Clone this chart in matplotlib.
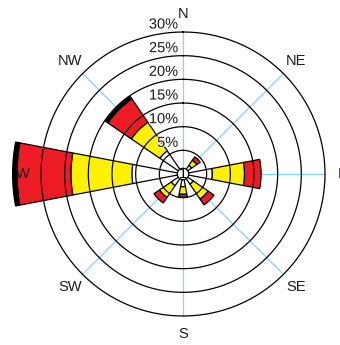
import numpy as np
import matplotlib
matplotlib.use("Agg")
import matplotlib.pyplot as plt
import matplotlib.patheffects as pe

plt.rcParams['font.family'] = ['Liberation Sans', 'DejaVu Sans']

# Data: frequency (%) per speed bin for each direction
directions = ['N', 'NE', 'E', 'SE', 'S', 'SW', 'W', 'NW']
angles_deg = [0, 45, 90, 135, 180, 225, 270, 315]
bin_white = [0.0, 2.2, 6.2, 2.6, 2.7, 3.0, 10.8, 5.9]
bin_yellow = [0.0, 1.3, 6.8, 3.8, 1.6, 3.0, 12.9, 7.3]
bin_red = [0.0, 0.9, 3.5, 1.5, 0.6, 1.4, 11.4, 6.0]
bin_black = [0.0, 0.0, 0.0, 0.0, 0.0, 0.0, 0.9, 0.6]
ring_values = [5, 10, 15, 20, 25, 30]
ring_labels = ['5%', '10%', '15%', '20%', '25%', '30%']
center_label = '1'

bins = [bin_white, bin_yellow, bin_red, bin_black]
bin_colors = ['white', '#FFF200', '#ED1C24', 'black']

W, H = 340, 345
fig = plt.figure(figsize=(W / 100, H / 100), dpi=100)
cx, cy = 183, 345 - 174
px_per = 142 / 30.0
rmax = 37
R = rmax * px_per
ax = fig.add_axes([(cx - R) / W, (cy - R) / H, 2 * R / W, 2 * R / H], projection='polar')
ax.set_theta_zero_location('N')
ax.set_theta_direction(-1)
ax.set_ylim(0, rmax)
ax.axis('off')

# radial axis lines
for a in angles_deg:
    t = np.deg2rad(a)
    ax.plot([t, t], [0, ring_values[-1]], color='#8FD0F2', lw=0.9, zorder=1)

width = np.deg2rad(21.6)
theta = np.deg2rad(angles_deg)
bottom = np.zeros(len(directions))
for vals, col in zip(bins, bin_colors):
    vals = np.array(vals)
    for i in range(len(directions)):
        if vals[i] > 0:
            ax.bar(theta[i], vals[i], width=width, bottom=bottom[i], color=col,
                   edgecolor='black', linewidth=0.9, zorder=2)
    bottom = bottom + vals

# rings
tt = np.linspace(0, 2 * np.pi, 400)
for r in ring_values:
    ax.plot(tt, np.full_like(tt, r), color='black', lw=0.9, zorder=3)

# center circle
ax.fill(tt, np.full_like(tt, 1.2), facecolor='white', edgecolor='black', lw=0.9, zorder=4)
ax.text(0, 0, center_label, ha='center', va='center', fontsize=10.5, zorder=5)

# ring labels
for r, lab in zip(ring_values, ring_labels):
    ax.annotate(lab, xy=(0, r), xytext=(-3.5, 2.5), textcoords='offset points',
                ha='right', va='baseline', fontsize=10.5, color='#1a1a1a', zorder=6,
                path_effects=[pe.withStroke(linewidth=1.5, foreground='white')])

# direction labels
for a, d in zip(angles_deg, directions):
    ax.text(np.deg2rad(a), 33.8, d, ha='center', va='center', fontsize=10.5,
            color='#1a1a1a', zorder=6)

fig.savefig('out.png', dpi=100)
